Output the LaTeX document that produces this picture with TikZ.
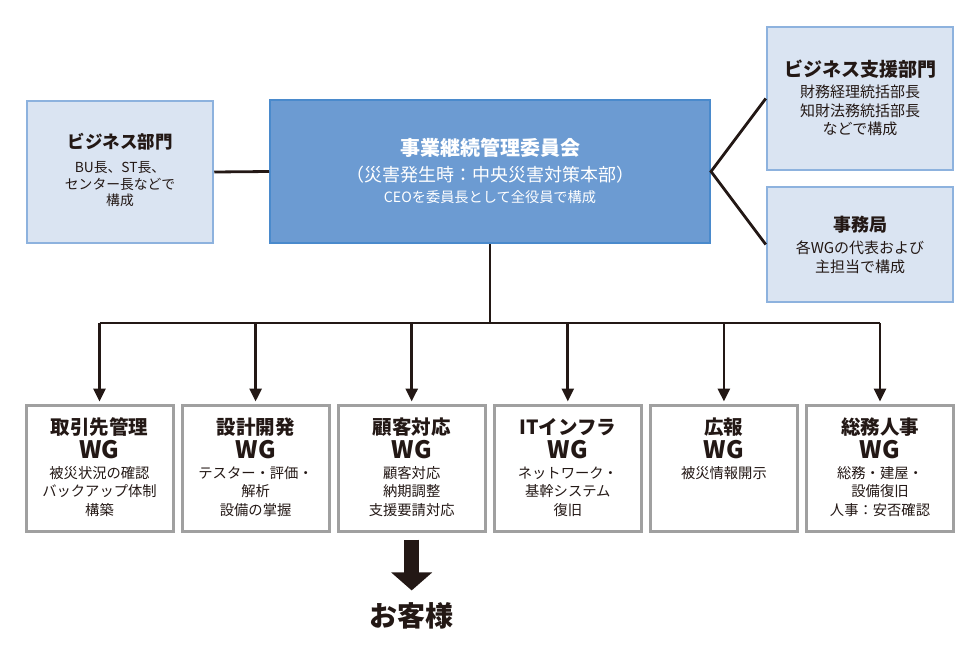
\documentclass[tikz,border=0pt]{standalone}
\usepackage{fontspec}
\setmainfont{Noto Sans CJK JP}
\usetikzlibrary{arrows.meta,calc}
\definecolor{lbfill}{RGB}{218,228,242}
\definecolor{lbdraw}{RGB}{141,178,222}
\definecolor{cfill}{RGB}{108,155,210}
\definecolor{cdraw}{RGB}{74,138,204}
\definecolor{wgdraw}{RGB}{160,160,160}
\definecolor{ink}{RGB}{35,24,21}
\newcommand{\myfs}[2]{\fontsize{#1}{#2}\selectfont}
\begin{document}
\begin{tikzpicture}[x=1pt,y=-1pt,
  lightbox/.style={draw=lbdraw,fill=lbfill,line width=2.5pt,rectangle,inner sep=0pt},
  cenbox/.style={draw=cdraw,fill=cfill,line width=2pt,rectangle,inner sep=0pt},
  wgbox/.style={draw=wgdraw,fill=white,line width=3pt,rectangle,inner sep=0pt,minimum width=147pt,minimum height=126pt},
  txt/.style={inner sep=0pt,text=ink,align=center},
  wtxt/.style={inner sep=0pt,text=white,align=center},
  conn/.style={draw=ink,line width=2.8pt},
  arr/.style={conn,-{Triangle[width=12pt,length=13pt]}},
  wgtitle/.style={txt,font=\bfseries\myfs{19.5}{19.5}},
  wglabel/.style={txt,font=\bfseries\myfs{24}{24}},
  wgbody/.style={txt,font=\myfs{14.3}{18.5}}
]
\useasboundingbox (0,0) rectangle (980,653);

% upper boxes
\node[lightbox,minimum width=186pt,minimum height=142pt] (biz) at (120,172) {};
\node[cenbox,minimum width=440pt,minimum height=143pt] (cen) at (490,171.5) {};
\node[lightbox,minimum width=186pt,minimum height=143pt] (sup) at (860,98.5) {};
\node[lightbox,minimum width=186pt,minimum height=115pt] (jim) at (860,244.5) {};

\node[txt,font=\bfseries\myfs{17.5}{17.5}] (bizt) at (120,142) {ビジネス部門};
\node[txt,font=\myfs{13.8}{16.5}] (bizb) at (120,184.5) {BU長、ST長、\\センター長などで\\構成};

\node[wtxt,font=\bfseries\myfs{20}{20}] (cent) at (490,148) {事業継続管理委員会};
\node[wtxt,font=\myfs{18}{18}] (cens) at (490,175) {（災害発生時：中央災害対策本部）};
\node[wtxt,font=\myfs{14.2}{14.2}] (cenb) at (490,197) {CEOを委員長として全役員で構成};

\node[txt,font=\bfseries\myfs{19}{19}] (supt) at (860,69.5) {ビジネス支援部門};
\node[txt,font=\myfs{15}{18.5}] (supb) at (860,110.5) {財務経理統括部長\\知財法務統括部長\\などで構成};

\node[txt,font=\bfseries\myfs{18}{18}] (jimt) at (860,225) {事務局};
\node[txt,font=\myfs{15}{19}] (jimb) at (860,257.5) {各WGの代表および\\主担当で構成};

% WG boxes
\node[wgbox] (w1) at (99.5,468) {};
\node[wgbox] (w2) at (255.6,468) {};
\node[wgbox] (w3) at (411.7,468) {};
\node[wgbox] (w4) at (567.8,468) {};
\node[wgbox] (w5) at (723.9,468) {};
\node[wgbox] (w6) at (880,468) {};

\node[wgtitle] (w1t) at (99.5,427) {取引先管理};
\node[wglabel] (w1g) at (99.5,450) {WG};
\node[wgbody] (w1b) at (99.5,491.5) {被災状況の確認\\バックアップ体制\\構築};

\node[wgtitle] (w2t) at (255.6,427) {設計開発};
\node[wglabel] (w2g) at (255.6,450) {WG};
\node[wgbody] (w2b) at (255.6,491.5) {テスター・評価・\\解析\\設備の掌握};

\node[wgtitle] (w3t) at (411.7,427) {顧客対応};
\node[wglabel] (w3g) at (411.7,450) {WG};
\node[wgbody] (w3b) at (411.7,491.5) {顧客対応\\納期調整\\支援要請対応};

\node[wgtitle] (w4t) at (567.8,427) {ITインフラ};
\node[wglabel] (w4g) at (567.8,450) {WG};
\node[wgbody] (w4b) at (567.8,491.5) {ネットワーク・\\基幹システム\\復旧};

\node[wgtitle] (w5t) at (723.9,427) {広報};
\node[wglabel] (w5g) at (723.9,450) {WG};
\node[wgbody] (w5b) at (723.9,473) {被災情報開示};

\node[wgtitle] (w6t) at (880,427) {総務人事};
\node[wglabel] (w6g) at (880,450) {WG};
\node[wgbody] (w6b) at (880,491.5) {総務・建屋・\\設備復旧\\人事：安否確認};

\node[txt,font=\bfseries\myfs{28}{28}] (ok) at (411.7,616) {お客様};

% connectors
\draw[conn] (biz.east) -- (cen.west);
\draw[conn] (sup.west) -- (cen.east) -- (jim.west);
\coordinate (bus) at (490,323);
\draw[conn] (cen.south) -- (bus);
\draw[conn] (w1.north |- bus) -- (w6.north |- bus);
\foreach \w in {w1,w2,w3,w4,w5,w6}{
  \draw[arr] (\w.north |- bus) -- ([yshift=2pt]\w.north);
}
\coordinate (as) at ($(w3.south)+(0,7)$);
\draw[draw=ink,line width=15pt,-{Triangle[width=40pt,length=18pt]}] (as) -- ([yshift=12pt]ok.north);
\end{tikzpicture}
\end{document}
